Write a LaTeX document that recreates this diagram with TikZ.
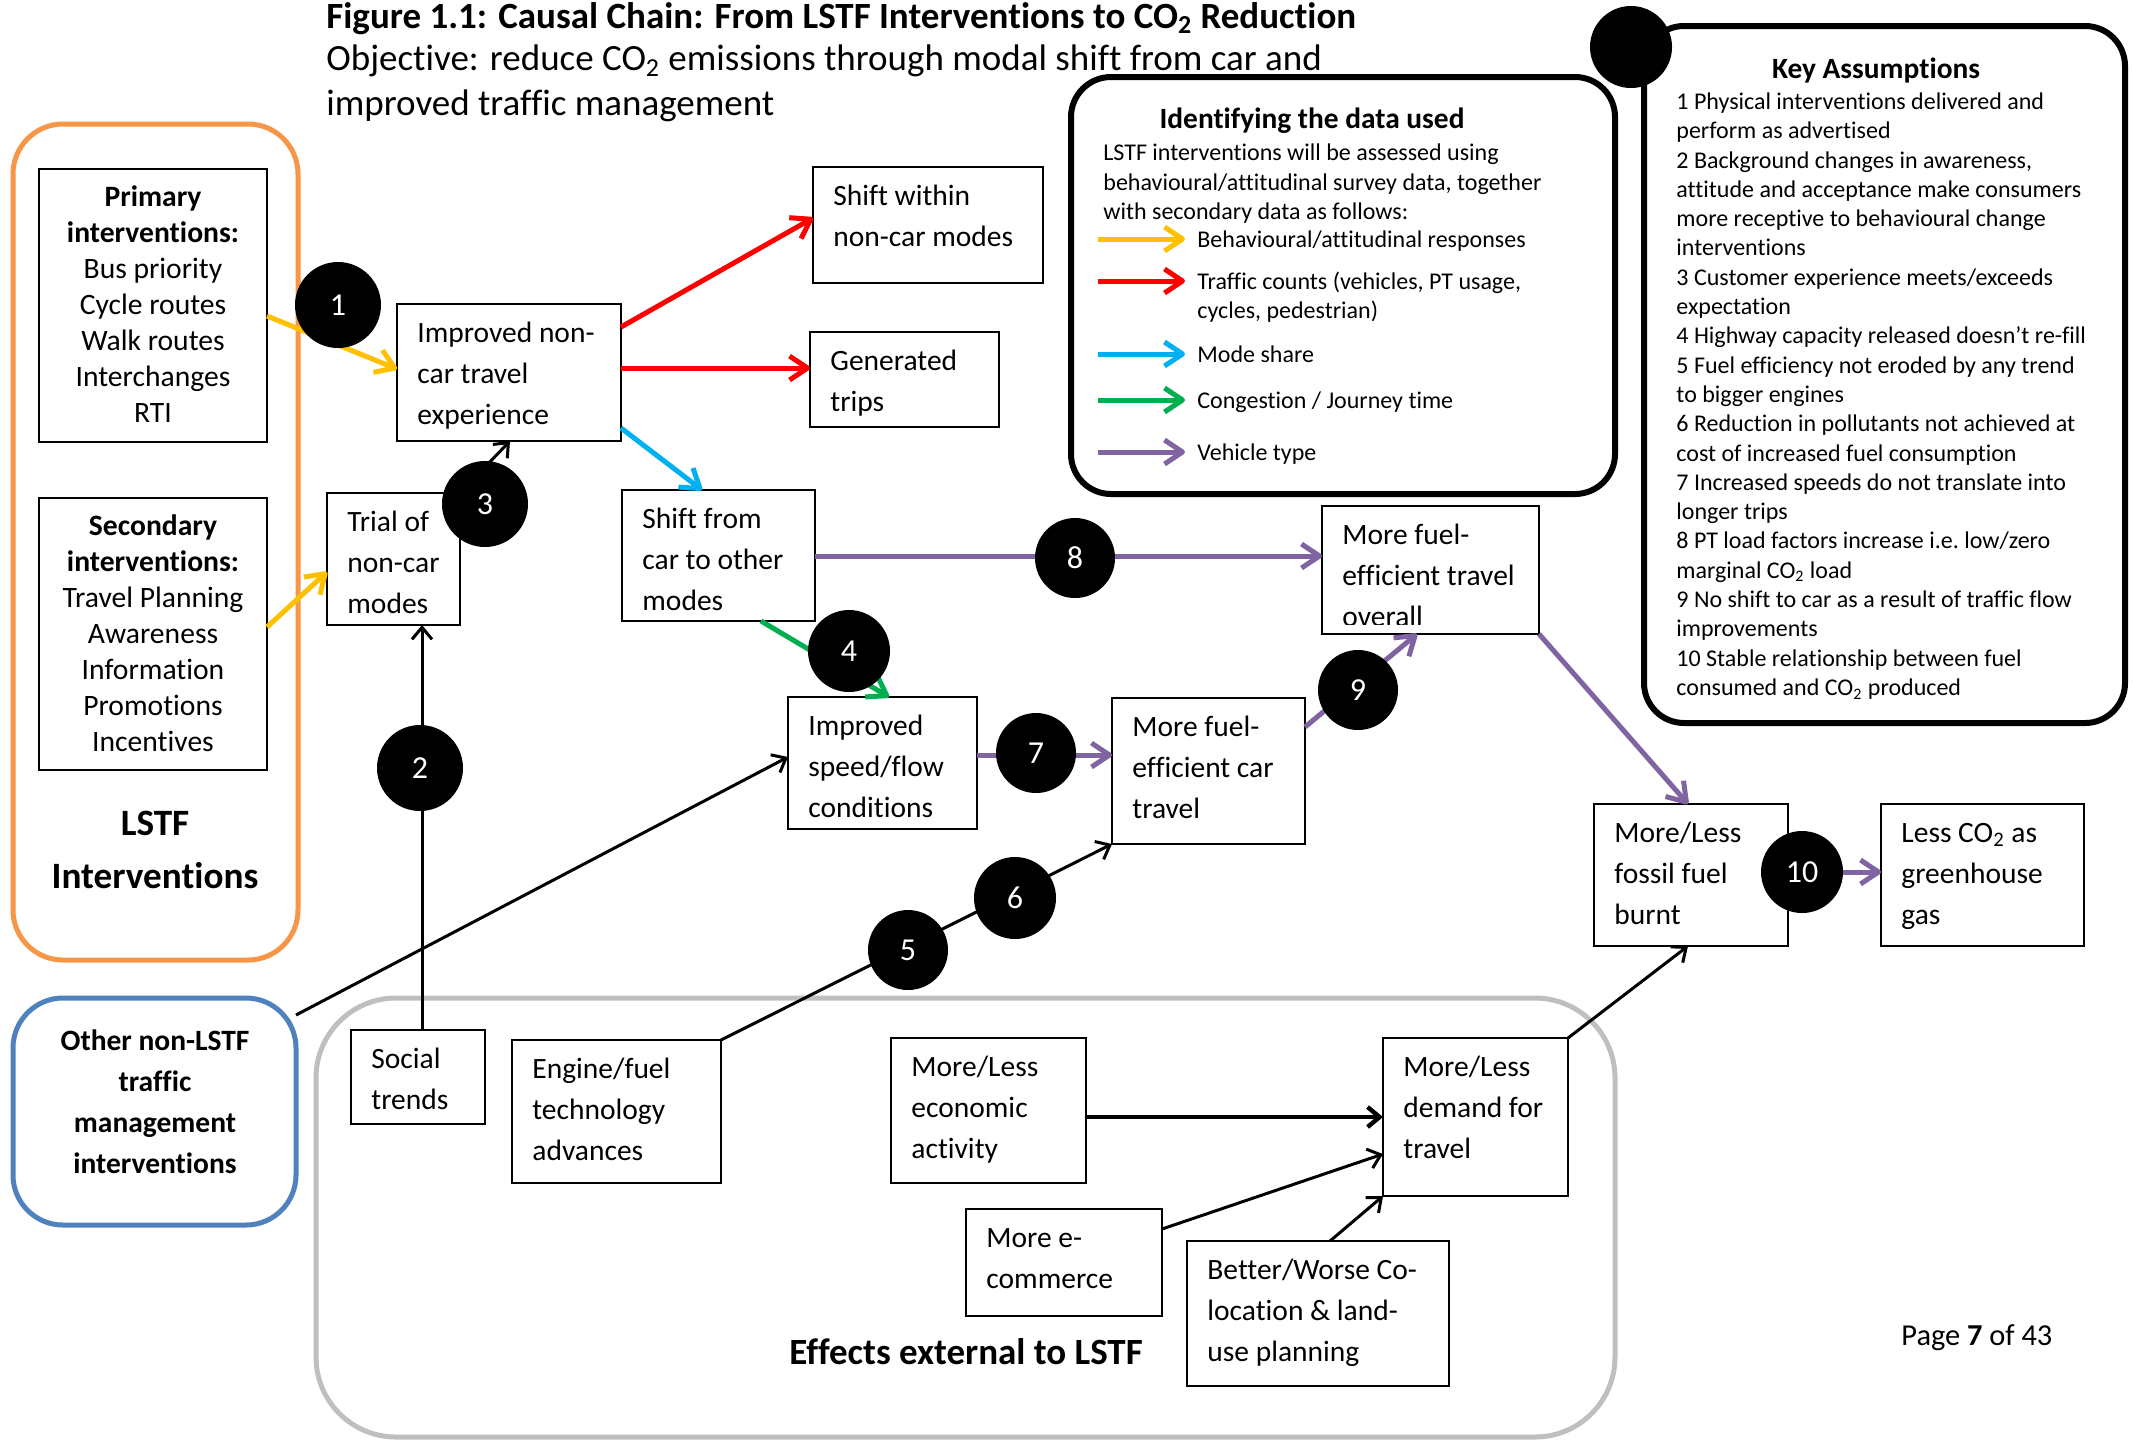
\documentclass[tikz,border=0pt]{standalone}
\usepackage{fontspec}
\setmainfont{Carlito}[Ligatures={TeX,NoCommon}]
\usetikzlibrary{arrows.meta,fit,calc}
\definecolor{cyel}{HTML}{FFC000}
\definecolor{cred}{HTML}{FF0000}
\definecolor{cblu}{HTML}{00B0F0}
\definecolor{cgrn}{HTML}{00B050}
\definecolor{cpur}{HTML}{8064A2}
\definecolor{corg}{HTML}{F79646}
\definecolor{cbbox}{HTML}{4F81BD}
\definecolor{cgry}{HTML}{BFBFBF}
\newcommand{\fB}{\fontsize{14.75}{20.5}\selectfont}
\newcommand{\fL}{\fontsize{14.8}{18}\selectfont}
\newcommand{\fS}{\fontsize{12}{14.65}\selectfont}
\newcommand{\fT}{\fontsize{18.5}{22.5}\selectfont}
\newcommand{\fH}{\fontsize{14.7}{18}\selectfont}
\newcommand{\fN}{\fontsize{16}{19}\selectfont}
\newcommand{\mybox}[6]{%
  \node[boxst, fit={(#2,#3) (#4,#5)}] (#1) {};
  \node[btxt] (#1t) at (#2+20,#3+9) {\strut #6};
}
\tikzset{
  boxst/.style={draw=black, line width=1pt, inner sep=0pt, outer sep=0pt},
  btxt/.style={inner sep=0pt, align=left, font=\fB, anchor=north west},
  ltxt/.style={inner sep=0pt, align=center, font=\fL, anchor=north},
  numc/.style={circle, fill=black, inner sep=0pt, text=white, font=\fN},
  carr/.style={line width=2.5pt, -{Straight Barb[length=9pt,width=12pt,line join=round]}},
  karr/.style={line width=1.5pt, -{Straight Barb[length=6pt,width=10pt]}},
  cont/.style={line width=2.5pt, inner sep=0pt, outer sep=0pt},
}
\begin{document}
\begin{tikzpicture}[x=0.5pt,y=-0.5pt]
\useasboundingbox (0,0) rectangle (2134,1442);
\fill[white] (0,0) rectangle (2134,1442);

% titles
\node[anchor=base west, inner sep=0pt, font=\bfseries\fT] (title) at (326,28) {Figure 1.1: Causal Chain: From LSTF Interventions to CO\textsubscript{2} Reduction};
\node[anchor=north west, inner sep=0pt, align=left, font=\fT] (objective) at (326,39) {\strut Objective: reduce CO\textsubscript{2} emissions through modal shift from car and\\improved traffic management};

% containers
\node[cont, draw=corg, rounded corners=25pt, fit={(13,124) (298,960)}] (lstf) {};
\node[cont, draw=cbbox, rounded corners=25pt, fit={(13,998) (296,1225)}] (other) {};
\node[cont, draw=cgry, rounded corners=40pt, fit={(316,998) (1615,1437)}] (external) {};
\node[cont, draw=black, line width=3pt, rounded corners=20pt, fit={(1071,77) (1615,494)}] (legend) {};
\node[cont, draw=black, line width=3pt, rounded corners=20pt, fit={(1644,26) (2125,723)}] (keyb) {};

% left boxes
\node[boxst, fit={(39,169) (267,442)}] (prim) {};
\node[ltxt] (primt) at (153,181) {\strut\textbf{Primary}\\\textbf{interventions:}\\Bus priority\\Cycle routes\\Walk routes\\Interchanges\\RTI};
\node[boxst, fit={(39,498) (267,770)}] (sec) {};
\node[ltxt] (sect) at (153,510) {\strut\textbf{Secondary}\\\textbf{interventions:}\\Travel Planning\\Awareness\\Information\\Promotions\\Incentives};
\node[inner sep=0pt, align=center, anchor=north, font=\bfseries\fontsize{18.6}{26.5}\selectfont] (lstft) at (155,798) {\strut LSTF\\Interventions};
\node[inner sep=0pt, align=center, anchor=north, font=\bfseries\fB] (othert) at (155,1021) {\strut Other non-LSTF\\traffic\\management\\interventions};
\node[anchor=base, inner sep=0pt, font=\bfseries\fT] (externalt) at (966,1364) {Effects external to LSTF};
\node[anchor=base west, inner sep=0pt, font=\fontsize{15.2}{18}\selectfont] (page) at (1901,1345) {Page \textbf{7} of 43};

% boxes
\mybox{impr}{397}{304}{621}{441}{Improved non-\\car travel\\experience}
\mybox{shiftw}{813}{167}{1043}{283}{Shift within\\non-car modes}
\mybox{gen}{810}{332}{999}{427}{Generated\\trips}
\mybox{trial}{327}{493}{460}{625}{Trial of\\non-car\\modes}
\mybox{shiftf}{622}{490}{815}{621}{Shift from\\car to other\\modes}
\node[boxst, fit={(1322,506) (1539,634)}] (overall) {};
\begin{scope}
\clip (1322,506) rectangle (1539,624);
\node[btxt] (overallt) at (1342,515) {\strut More fuel-\\efficient travel\\overall};
\end{scope}
\mybox{speed}{788}{697}{977}{829}{Improved\\speed/flow\\conditions}
\mybox{carfe}{1112}{698}{1305}{844}{More fuel-\\efficient car\\travel}
\mybox{fossil}{1594}{804}{1788}{946}{More/Less\\fossil fuel\\burnt}
\mybox{lessco}{1881}{804}{2084}{946}{Less CO\textsubscript{2} as\\greenhouse\\gas}
\mybox{social}{351}{1030}{485}{1124}{Social\\trends}
\mybox{engine}{512}{1040}{721}{1183}{Engine/fuel\\technology\\advances}
\mybox{econ}{891}{1038}{1086}{1183}{More/Less\\economic\\activity}
\mybox{demand}{1383}{1038}{1568}{1196}{More/Less\\demand for\\travel}
\mybox{ecom}{966}{1209}{1162}{1316}{More e-\\commerce}
\mybox{better}{1187}{1241}{1449}{1386}{Better/Worse Co-\\location \& land-\\use planning}

% legend content
\node[anchor=base, inner sep=0pt, font=\bfseries\fH] (legendt) at (1312,128) {Identifying the data used};
\node[anchor=north west, inner sep=0pt, align=left, font=\fS] (legendx) at (1103,140) {\strut LSTF interventions will be assessed using\\behavioural/attitudinal survey data, together\\with secondary data as follows:};
\draw[carr, cyel] (1098,239) -- (1185,239);
\draw[carr, cred] (1098,281) -- (1185,281);
\draw[carr, cblu] (1098,354) -- (1185,354);
\draw[carr, cgrn] (1098,400) -- (1185,400);
\draw[carr, cpur] (1098,452) -- (1185,452);
\node[anchor=base west, inner sep=0pt, font=\fS] (lg1) at (1197,247) {Behavioural/attitudinal responses};
\node[anchor=north west, inner sep=0pt, align=left, font=\fS] (lg2) at (1197,268.5) {\strut Traffic counts (vehicles, PT usage,\\cycles, pedestrian)};
\node[anchor=base west, inner sep=0pt, font=\fS] (lg3) at (1197,362) {Mode share};
\node[anchor=base west, inner sep=0pt, font=\fS] (lg4) at (1197,408) {Congestion / Journey time};
\node[anchor=base west, inner sep=0pt, font=\fS] (lg5) at (1197,460) {Vehicle type};

% key assumptions
\node[anchor=base, inner sep=0pt, font=\bfseries\fH] (keyt) at (1876,78) {Key Assumptions};
\node[anchor=north west, inner sep=0pt, align=left, font=\fS] (keyx) at (1676,88.5) {\strut 1 Physical interventions delivered and\\perform as advertised\\2 Background changes in awareness,\\attitude and acceptance make consumers\\more receptive to behavioural change\\interventions\\3 Customer experience meets/exceeds\\expectation\\4 Highway capacity released doesn’t re-fill\\5 Fuel efficiency not eroded by any trend\\to bigger engines\\6 Reduction in pollutants not achieved at\\cost of increased fuel consumption\\7 Increased speeds do not translate into\\longer trips\\8 PT load factors increase i.e.\ low/zero\\marginal CO\textsubscript{2} load\\9 No shift to car as a result of traffic flow\\improvements\\10 Stable relationship between fuel\\consumed and CO\textsubscript{2} produced};

% connectors
\draw[carr, cyel] ($(prim.north east)+(0,147)$) -- ($(impr.north west)+(0,65)$);
\draw[carr, cyel] ($(sec.north east)+(0,129)$) -- ($(trial.north west)+(0,79)$);
\draw[carr, cred] ($(impr.north east)+(0,23)$) -- ($(shiftw.north west)+(0,51)$);
\draw[carr, cred] ($(impr.north east)+(0,64)$) -- ($(gen.north west)+(0,36)$);
\draw[carr, cblu] ($(impr.north east)+(0,124)$) -- ($(shiftf.north west)+(80,0)$);
\draw[karr] (trial.north east) -- ($(impr.south west)+(113,0)$);
\draw[karr] ($(social.north west)+(71,0)$) -- ($(trial.south west)+(95,0)$);
\draw[carr, cgrn] ($(shiftf.south west)+(139,0)$) -- ($(speed.north west)+(101,0)$);
\draw[carr, cpur] ($(shiftf.north east)+(0,66)$) -- ($(overall.north west)+(0,50)$);
\draw[carr, cpur] ($(speed.north east)+(0,58)$) -- ($(carfe.north west)+(0,57)$);
\draw[carr, cpur] ($(carfe.north east)+(0,29)$) -- ($(overall.south west)+(95,0)$);
\draw[carr, cpur] (overall.south east) -- ($(fossil.north west)+(94,0)$);
\draw[carr, cpur] ($(fossil.north east)+(0,68)$) -- ($(lessco.north west)+(0,68)$);
\draw[karr] ($(other.north east)+(0,17)$) -- ($(speed.north west)+(0,60)$);
\draw[karr] (engine.north east) -- (carfe.south west);
\draw[karr] (demand.north east) -- ($(fossil.south west)+(94,0)$);
\draw[karr, line width=2.2pt] ($(econ.north east)+(0,79)$) -- ($(demand.north west)+(0,79)$);
\draw[karr] ($(ecom.north east)+(0,20)$) -- ($(demand.north west)+(0,116)$);
\draw[karr] ($(better.north west)+(143,0)$) -- (demand.south west);

% numbered circles
\node[numc, minimum size=43pt] (n1) at (338,305) {1};
\node[numc, minimum size=43pt] (n2) at (420,768) {2};
\node[numc, minimum size=43pt] (n3) at (485,504) {3};
\node[numc, minimum size=41pt] (n4) at (849,651) {4};
\node[numc, minimum size=40pt] (n5) at (908,950) {5};
\node[numc, minimum size=41pt] (n6) at (1015,898) {6};
\node[numc, minimum size=40pt] (n7) at (1036,753) {7};
\node[numc, minimum size=40pt] (n8) at (1075,558) {8};
\node[numc, minimum size=40pt] (n9) at (1358,690) {9};
\node[numc, minimum size=41pt] (n10) at (1802,872) {10};
\node[numc, minimum size=41pt] (nkey) at (1631,47) {};
\end{tikzpicture}
\end{document}
